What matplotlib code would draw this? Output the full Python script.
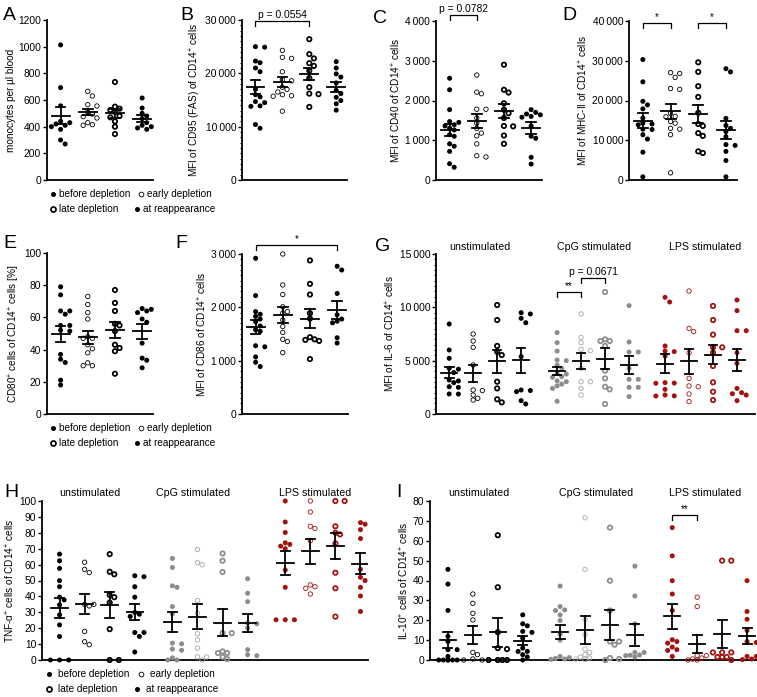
import numpy as np
import matplotlib
matplotlib.use("Agg")
import matplotlib.pyplot as plt
from matplotlib.lines import Line2D
from matplotlib.ticker import MultipleLocator, FuncFormatter

plt.rcParams['font.family'] = ['Liberation Sans', 'DejaVu Sans']
plt.rcParams['mathtext.default'] = 'regular'
plt.rcParams['font.size'] = 7.4

# ---------------- data ----------------
stages = ["before depletion", "early depletion", "late depletion", "at reappearance"]
stim_blocks = ["unstimulated", "CpG stimulated", "LPS stimulated"]

# A: monocytes per ul blood
mono = [
    [1013, 693, 556, 440, 420, 410, 380, 300, 270, 430, 400],
    [665, 630, 565, 555, 510, 495, 475, 465, 430, 415, 410],
    [735, 550, 535, 525, 510, 480, 440, 400, 345, 470],
    [615, 540, 500, 480, 460, 430, 410, 400, 390, 380],
]
# B: MFI CD95
cd95 = [
    [25000, 24900, 22000, 22300, 21000, 20300, 17000, 15600, 16000, 14700, 14500, 13900, 13800, 9700, 10400],
    [24300, 22800, 23000, 20300, 18800, 18600, 17000, 17400, 16000, 15700, 15800, 12900, 16500],
    [26400, 23600, 22800, 21900, 21400, 19100, 17400, 16200, 16100, 13700, 20500],
    [22200, 21000, 19900, 19300, 18200, 16800, 16200, 15500, 14900, 14300, 13100],
]
# C: MFI CD40
cd40 = [
    [2560, 2270, 1770, 1470, 1450, 1360, 1390, 1300, 1260, 1140, 1100, 910, 850, 720, 320, 410],
    [2640, 2210, 2170, 1780, 1780, 1560, 1430, 1300, 1180, 1110, 910, 580, 610],
    [2900, 2200, 2270, 1930, 1770, 1680, 1560, 1350, 1360, 1120, 910],
    [1700, 1640, 1770, 1600, 1580, 1660, 1360, 1100, 1050, 400, 570],
]
# D: MFI MHC-II
mhc2 = [
    [30300, 24700, 19800, 18900, 17900, 15600, 14300, 13900, 14100, 12800, 12700, 11400, 10300, 7000, 800],
    [27000, 26800, 25800, 23000, 22800, 16800, 16000, 15900, 14700, 14300, 13000, 12800, 11400, 1800],
    [29600, 27200, 23600, 20900, 16900, 14100, 13600, 11800, 11100, 6800, 7200],
    [28000, 27200, 15500, 13700, 13000, 12200, 10900, 8900, 8700, 7200, 4900, 800],
]
# E: CD80+ cells [%]
cd80 = [
    [79, 74, 64, 64, 62, 55, 55, 52, 51.5, 37, 34, 32, 21, 18],
    [73, 68, 63, 59, 48, 47, 47, 40.5, 38, 31.8, 30, 30, 43],
    [77, 69, 64, 56, 55, 51.5, 41, 39, 43, 25],
    [65.5, 65, 64, 63, 59, 57, 44, 34.7, 33.4, 28.7],
]
# F: MFI CD86
cd86 = [
    [2920, 2220, 1920, 1870, 1830, 1780, 1730, 1580, 1550, 1280, 1260, 1070, 970, 890, 1650],
    [3000, 2420, 2240, 2010, 1920, 1890, 1760, 1640, 1400, 1530, 1360, 1150],
    [2880, 2440, 2240, 1890, 1790, 1440, 1400, 1390, 1370, 1030],
    [2770, 2700, 2260, 1860, 1780, 1740, 1710, 1430, 1330],
]
# G: MFI IL-6 (unstim x4, CpG x4, LPS x4)
il6 = [
    [8440, 6000, 5220, 4280, 4200, 3880, 3100, 3190, 2940, 2560, 2500, 1880, 1870],
    [7500, 6840, 6250, 2250, 2200, 1780, 1310, 1470, 4600],
    [10220, 8810, 6380, 5530, 5840, 3030, 2400, 1090, 1380],
    [9500, 9380, 8560, 8970, 5380, 2250, 2200, 940, 1250, 2100],
    [7630, 6690, 5900, 5060, 5000, 4590, 4300, 3810, 3750, 3440, 3500, 3030, 3100, 2630, 1190, 2800, 2400],
    [9380, 6690, 7160, 6060, 5940, 3030, 3030, 2400, 1780, 4300],
    [11440, 7000, 6840, 6840, 6380, 3340, 4060, 2560, 2310, 940],
    [10160, 6750, 5810, 5810, 4280, 3250, 3250, 2500, 2500, 1630],
    [10500, 10940, 6380, 5900, 5850, 5440, 2880, 2940, 2310, 1780, 1690, 1700, 2900],
    [11530, 8030, 7720, 5750, 3340, 2630, 2560, 1880, 1160],
    [10130, 8810, 7440, 6250, 5750, 6250, 4500, 2970, 2090, 1310],
    [10690, 9690, 7810, 7810, 5750, 4750, 2400, 2000, 1900, 1250, 1780],
]
# H: TNF-a+ cells [%]
tnf = [
    [66.6, 62.4, 57.6, 49.9, 46.1, 39.5, 37.8, 34.7, 28.4, 22.1, 14.8, 0, 0, 0],
    [61.5, 57, 55, 35, 34, 35, 18, 11.5, 9.6],
    [66.6, 55.5, 53.9, 40.9, 39.5, 36.1, 19.4, 0, 0],
    [52.4, 53, 46.1, 39.5, 29.9, 28.8, 27.4, 17.3, 17.3, 14.8, 5],
    [63.9, 58.2, 46.6, 45.7, 33.6, 29, 10.6, 10.2, 6.9, 6.1, 1.3, 0, 0],
    [69.5, 61.2, 59.9, 37.4, 29.4, 16.5, 12.7, 7.5, 1.9, 0, 2.0],
    [62.4, 67, 55.3, 16.9, 16.9, 5.4, 4.4, 4.4, 1.9, 0.6],
    [51.1, 42, 36.7, 22.8, 23.2, 20, 6.5, 2.7, 3.3],
    [100, 86.8, 80.2, 73.7, 72.7, 71.6, 56.6, 45.7, 25.3, 25.3, 25.3, 70],
    [100, 93.1, 84.1, 82.7, 75, 47.2, 46.1, 45.1, 41.5],
    [100, 100, 84.1, 80, 73.3, 54.9, 45.1, 27.3, 79],
    [86.4, 85.4, 82, 76.4, 57, 52, 50, 45.7, 40.3, 30.5],
]
# I: IL-10+ cells [%]
il10 = [
    [45.6, 38.2, 24.9, 11.9, 9.3, 5.2, 5.2, 1.8, 0, 0, 0, 0, 0, 0],
    [33.2, 28.5, 23.5, 20.2, 3.8, 2.7, 0.5, 0, 0],
    [62.8, 36.6, 6, 5.5, 14, 0, 0, 0, 0],
    [22.7, 18.2, 17.2, 14.4, 13.9, 11, 6, 4.3, 4.3, 2.7, 1.5, 0],
    [37.2, 26.9, 25.2, 24.9, 22.7, 19.9, 13, 10, 1.8, 0.5, 0.3, 0.8, 1.2],
    [71.6, 45.6, 20.5, 12.7, 5.5, 3.8, 2.7, 1.5, 0.2, 0.5, 1.0],
    [66.6, 39.9, 24.9, 9.3, 9.3, 7.7, 1, 0.5, 0],
    [47.2, 32.2, 18.2, 3.8, 3.8, 2.2, 2.4, 2.5, 1.5],
    [66.6, 52.4, 39.9, 33.2, 24.9, 10.2, 9.3, 8.5, 6.5, 5.2, 4.8, 1.8],
    [31.6, 26.9, 2.2, 2.2, 0, 0.5, 1, 0],
    [50, 50, 3.8, 3.8, 3.8, 1.5, 1.5, 1.5, 0],
    [39.9, 24.4, 20.5, 14.9, 9.3, 8.8, 1.8, 0.2, 0.5, 1.8],
]

# ---------------- styling ----------------
W, H = 757, 697
fig = plt.figure(figsize=(W / 100, H / 100), dpi=100)

BLACK = '#000000'
GREY = '#8c8c8c'
LGREY = '#a6a6a6'
RED = '#a3120e'
STYLE = ['filled', 'thin', 'thick', 'filled']
TICK_FS = 7.4
LABEL_FS = 7.2


def marker_kw(style, color):
    if style == 'filled':
        return dict(s=13, facecolor=color, edgecolor='none', linewidths=0)
    if style == 'thin':
        return dict(s=10, facecolor='none', edgecolor=color, linewidths=0.6)
    return dict(s=10, facecolor='none', edgecolor=color, linewidths=1.25)


def spaced(v, pos):
    # thousands separated by a thin space, as in the original
    return f"{v:,.0f}".replace(",", "\u2009")


def make_ax(l, t, r, b, ylim, major, minor=None, fmt=None, xlim=(0.5, 4.4)):
    ax = fig.add_axes([l / W, (H - b) / H, (r - l) / W, (b - t) / H])
    ax.set_xlim(*xlim)
    ax.set_ylim(*ylim)
    for s in ('top', 'right'):
        ax.spines[s].set_visible(False)
    for s in ('left', 'bottom'):
        ax.spines[s].set_linewidth(1.3)
    ax.set_xticks([])
    ax.yaxis.set_major_locator(MultipleLocator(major))
    if minor:
        ax.yaxis.set_minor_locator(MultipleLocator(minor))
    if fmt:
        ax.yaxis.set_major_formatter(FuncFormatter(fmt))
    ax.tick_params(axis='y', which='major', direction='out', length=3, width=1, pad=1.2,
                   labelsize=TICK_FS)
    ax.tick_params(axis='y', which='minor', direction='out', length=1.5, width=0.8)
    return ax


def swarm(ax, xc, vals, diam=4.8, step=4.6, maxj=2):
    # simple beeswarm: spread points with similar values sideways (pixel space)
    vals = np.asarray(vals, float)
    pts = ax.transData.transform(np.column_stack([np.full(len(vals), xc), vals]))
    x0, ypx = pts[0, 0], pts[:, 1]
    cands = [0.0] + [s * j * step for j in range(1, maxj + 1) for s in (1, -1)]
    placed, offs = [], np.zeros(len(vals))
    for i in np.argsort(-vals, kind='stable'):
        best, best_d = cands[0], -1
        for c in cands:
            d = min([np.hypot(c - ox, ypx[i] - oy) for ox, oy in placed] or [99])
            if d >= diam:
                best = c
                break
            if d > best_d:
                best, best_d = c, d
        placed.append((best, ypx[i]))
        offs[i] = best
    inv = ax.transData.inverted()
    return inv.transform(np.column_stack([x0 + offs, ypx]))[:, 0]


def dotplot(ax, groups, xs, colors, styles):
    for vals, x, c, st in zip(groups, xs, colors, styles):
        v = np.asarray(vals, float)
        ax.scatter(swarm(ax, x, v), v, clip_on=False, zorder=3, **marker_kw(st, c))
        m = v.mean()
        sem = v.std(ddof=1) / np.sqrt(len(v))
        ax.plot([x - 0.33, x + 0.33], [m, m], color='k', lw=1.3, zorder=4)
        ax.plot([x, x], [m - sem, m + sem], color='k', lw=1.3, zorder=4)
        for yy in (m - sem, m + sem):
            ax.plot([x - 0.18, x + 0.18], [yy, yy], color='k', lw=1.3, zorder=4)


def bracket(ax, x1, x2, y, label, fs=7.4, drop_px=5, gap_px=1):
    y0, y1 = ax.get_ylim()
    hpx = ax.get_window_extent().height
    d = drop_px * (y1 - y0) / hpx
    g = gap_px * (y1 - y0) / hpx
    ax.plot([x1, x1, x2, x2], [y - d, y, y, y - d], color='k', lw=0.9, clip_on=False)
    ax.text((x1 + x2) / 2, y + g, label, ha='center', va='bottom', fontsize=fs, clip_on=False)


def legend(x1, x2a, x2b, y1, y2, dx):
    entries = [(x1, y1, 0), (x2a, y1, 1), (x1, y2, 2), (x2b, y2, 3)]
    for x, y, k in entries:
        st = STYLE[k]
        if st == 'filled':
            kw = dict(markersize=3.6, markerfacecolor='k', markeredgewidth=0)
        elif st == 'thin':
            kw = dict(markersize=3.4, markerfacecolor='none', markeredgecolor='k',
                      markeredgewidth=0.6)
        else:
            kw = dict(markersize=3.6, markerfacecolor='none', markeredgecolor='k',
                      markeredgewidth=1.25)
        ln = Line2D([x / W], [(H - y) / H], marker='o', linestyle='none',
                    transform=fig.transFigure, **kw)
        fig.add_artist(ln)
        fig.text((x + dx) / W, (H - y) / H, stages[k], ha='left', va='center', fontsize=7.2)


def panel_letter(x, y, s):
    fig.text(x / W, (H - y) / H, s, ha='left', va='top', fontsize=14)


x4 = [1, 2, 3, 4]
x12 = [1, 2, 3, 4, 5.5, 6.5, 7.5, 8.5, 10, 11, 12, 13]
c4 = [BLACK] * 4
c12 = [BLACK] * 4 + [GREY, LGREY, GREY, GREY] + [RED] * 4
s12 = STYLE * 3

# A
ax = make_ax(47, 20, 153, 180, (0, 1200), 200)
dotplot(ax, mono, x4, c4, STYLE)
ax.set_ylabel('monocytes per µl blood', labelpad=1.5, fontsize=LABEL_FS)

# B
ax = make_ax(242, 20, 347, 180, (0, 30000), 10000, 1000, spaced)
dotplot(ax, cd95, x4, c4, STYLE)
ax.set_ylabel('MFI of CD95 (FAS) of CD14$^{+}$ cells', labelpad=1.5, fontsize=LABEL_FS)
bracket(ax, 1, 3, 29900, 'p = 0.0554')

# C
ax = make_ax(436, 21, 542, 180, (0, 4000), 1000, None, spaced)
dotplot(ax, cd40, x4, c4, STYLE)
ax.set_ylabel('MFI of CD40 of CD14$^{+}$ cells', labelpad=1.5, fontsize=LABEL_FS)
bracket(ax, 1, 2, 4150, 'p = 0.0782')

# D
ax = make_ax(629, 21, 737, 180, (0, 40000), 10000, None, spaced)
dotplot(ax, mhc2, x4, c4, STYLE)
ax.set_ylabel('MFI of MHC-II of CD14$^{+}$ cells', labelpad=1.5, fontsize=LABEL_FS)
bracket(ax, 1, 2, 39500, '*', fs=7)
bracket(ax, 3, 4, 39500, '*', fs=7)

# E
ax = make_ax(47, 253, 153, 414, (0, 100), 20)
dotplot(ax, cd80, x4, c4, STYLE)
ax.set_ylabel('CD80$^{+}$ cells of CD14$^{+}$ cells [%]', labelpad=1.5, fontsize=LABEL_FS)

# F
ax = make_ax(242, 254, 348, 414, (0, 3000), 1000, 100, spaced)
dotplot(ax, cd86, x4, c4, STYLE)
ax.set_ylabel('MFI of CD86 of CD14$^{+}$ cells', labelpad=1.5, fontsize=LABEL_FS)
bracket(ax, 1, 4, 3175, '*', fs=7)

# G
ax = make_ax(436, 254, 755, 414, (0, 15000), 5000, 500, spaced, xlim=(0.45, 13.75))
dotplot(ax, il6, x12, c12, s12)
ax.set_ylabel('MFI of IL-6 of CD14$^{+}$ cells', labelpad=1.5, fontsize=LABEL_FS)
bracket(ax, 5.5, 6.5, 11400, '**', fs=7)
bracket(ax, 6.5, 7.5, 12780, 'p = 0.0671')

# H
ax = make_ax(42, 501, 368, 660, (0, 100), 10, xlim=(0.3, 13.3))
dotplot(ax, tnf, x12, c12, s12)
ax.set_ylabel('TNF-α$^{+}$ cells of CD14$^{+}$ cells', labelpad=1.5, fontsize=LABEL_FS)

# I
ax = make_ax(430, 501, 757, 660, (0, 80), 10, xlim=(0.28, 13.4))
dotplot(ax, il10, x12, c12, s12)
ax.set_ylabel('IL-10$^{+}$ cells of CD14$^{+}$ cells', labelpad=1.5, fontsize=LABEL_FS)
bracket(ax, 10, 11, 72.8, '**', fs=7)

# stimulation block labels
for xs_, y_ in (([480, 594, 705], 247), ([90, 193, 315], 493), ([479, 596, 705], 493)):
    for xx, lab in zip(xs_, stim_blocks):
        fig.text(xx / W, (H - y_) / H, lab, ha='center', va='center', fontsize=7.7)

# legends
legend(53, 141, 137, 194, 209, 6)
legend(53, 141, 137, 428, 443, 6)
legend(49, 141, 137, 674, 689, 9)

# panel letters
for x, y, s in [(3, 7, 'A'), (180, 7, 'B'), (373, 10, 'C'), (562, 7, 'D'),
                (3, 235, 'E'), (175, 235, 'F'), (375, 238, 'G'),
                (4, 484, 'H'), (396, 484, 'I')]:
    panel_letter(x, y, s)

fig.savefig('out.png', dpi=100)
